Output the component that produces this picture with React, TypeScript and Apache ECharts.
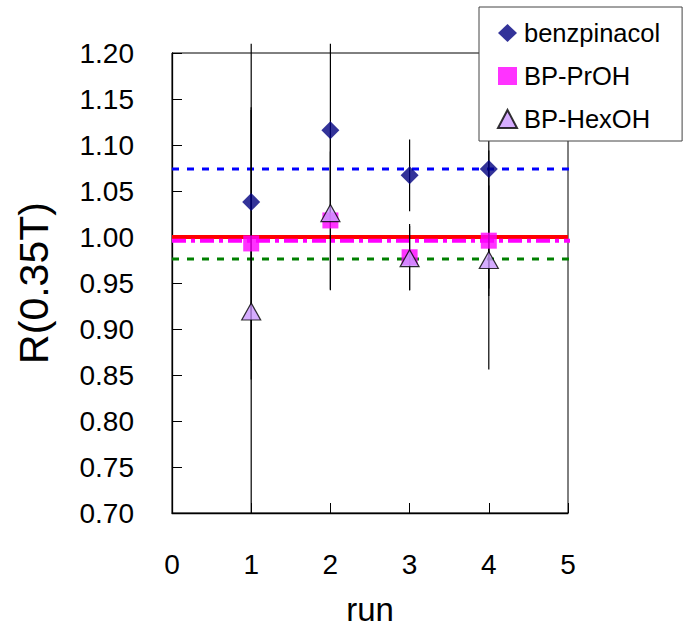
import React, { useEffect, useRef } from "react";
import * as echarts from "echarts";

const runs = [1, 2, 3, 4];
const xTicks = [0, 1, 2, 3, 4, 5];
const yTicks = [0.7, 0.75, 0.8, 0.85, 0.9, 0.95, 1.0, 1.05, 1.1, 1.15, 1.2];

const benzpinacol = [1.038, 1.116, 1.067, 1.074];
const benzpinacolErr = [0.172, 0.094, 0.039, 0.13];
const bpPrOH = [0.993, 1.018, 0.978, 0.996];
const bpPrOHErr = [0.148, 0.075, 0.036, 0.06];
const bpHexOH = [0.919, 1.026, 0.977, 0.975];
const bpHexOHErr = [0.219, 0.084, 0.035, 0.119];

const meanBenz = 1.074;
const reference = 1.0;
const meanPrOH = 0.996;
const meanHexOH = 0.976;
const lineXStart = 0;
const lineXEnd = 5.13;
const refXEnd = 5.0;

const FONT = "'Liberation Sans', Arial, sans-serif";

export default function App() {
  const ref = useRef<HTMLDivElement>(null);
  useEffect(() => {
    if (!ref.current) return;
    const chart = echarts.init(ref.current, undefined, { renderer: "svg" });

    const errData = (vals: number[], errs: number[]) =>
      runs.map((r, i) => [r, vals[i] - errs[i], vals[i] + errs[i]]);

    const renderErr = (params: any, api: any) => {
      const x = api.value(0);
      const p1 = api.coord([x, api.value(1)]);
      const p2 = api.coord([x, api.value(2)]);
      return {
        type: "line",
        shape: { x1: p1[0], y1: p1[1], x2: p2[0], y2: p2[1] },
        style: { stroke: "#000", lineWidth: 1.2 },
      };
    };

    const hLine = (name: string, v: number, xEnd: number, color: string, width: number, type: any) => ({
      name,
      type: "line",
      data: [
        [lineXStart, v],
        [xEnd, v],
      ],
      symbol: "none",
      clip: false,
      silent: true,
      z: 1,
      lineStyle: { color, width, type },
    });

    const errSeries = (name: string, vals: number[], errs: number[]) => ({
      name,
      type: "custom",
      renderItem: renderErr,
      data: errData(vals, errs),
      encode: { x: 0, y: [1, 2] },
      clip: false,
      silent: true,
      z: 2,
    });

    chart.setOption({
      animation: false,
      backgroundColor: "#fff",
      textStyle: { fontFamily: FONT },
      grid: {
        left: 172,
        top: 53,
        width: 396,
        height: 460,
        outerBoundsMode: "none",
        containLabel: false,
        show: true,
        borderColor: "#000",
        borderWidth: 1,
        backgroundColor: "transparent",
      },
      legend: {
        data: ["benzpinacol", "BP-PrOH", "BP-HexOH"],
        orient: "vertical",
        left: 479,
        top: 7,
        padding: [13, 22, 9, 18],
        itemGap: 17,
        itemWidth: 19,
        itemHeight: 18,
        backgroundColor: "#fff",
        borderColor: "#444",
        borderWidth: 1,
        selectedMode: false,
        z: 10,
        textStyle: { fontFamily: FONT, fontSize: 25.5, color: "#000", padding: [0, 0, 0, 2] },
      },
      xAxis: {
        type: "value",
        min: 0,
        max: 5,
        interval: 1,
        name: "run",
        nameLocation: "middle",
        nameGap: 85,
        nameTextStyle: { fontFamily: FONT, fontSize: 33, lineHeight: 22, color: "#000" },
        axisLine: { show: true, lineStyle: { color: "#000", width: 1.3 } },
        axisTick: { show: true, inside: true, length: 10, lineStyle: { color: "#000" } },
        axisLabel: {
          fontFamily: FONT,
          fontSize: 28,
          color: "#000",
          margin: 37,
          formatter: (v: number) => (xTicks.includes(v) ? String(v) : ""),
        },
        splitLine: { show: false },
      },
      yAxis: {
        type: "value",
        min: 0.7,
        max: 1.2,
        interval: 0.05,
        name: "R(0.35T)",
        nameLocation: "middle",
        nameGap: 118,
        nameRotate: 90,
        nameTextStyle: { fontFamily: FONT, fontSize: 41, color: "#000" },
        axisLine: { show: true, lineStyle: { color: "#000", width: 1.3 } },
        axisTick: { show: true, inside: true, length: 10, lineStyle: { color: "#000" } },
        axisLabel: {
          fontFamily: FONT,
          fontSize: 28,
          color: "#000",
          margin: 38,
          formatter: (v: number) => {
            const t = yTicks.find((y) => Math.abs(y - v) < 1e-6);
            return t !== undefined ? t.toFixed(2) : "";
          },
        },
        splitLine: { show: false },
      },
      series: [
        hLine("benzpinacol mean", meanBenz, lineXEnd, "#0000FF", 3, [7, 8]),
        hLine("reference", reference, refXEnd, "#FF0000", 4, "solid"),
        hLine("BP-PrOH mean", meanPrOH, lineXEnd, "#FF00FF", 4, [14, 5, 4, 5]),
        hLine("BP-HexOH mean", meanHexOH, lineXEnd, "#008000", 3, [7, 8]),
        errSeries("benzpinacol err", benzpinacol, benzpinacolErr),
        errSeries("BP-PrOH err", bpPrOH, bpPrOHErr),
        errSeries("BP-HexOH err", bpHexOH, bpHexOHErr),
        {
          name: "benzpinacol",
          type: "scatter",
          data: runs.map((r, i) => [r, benzpinacol[i]]),
          symbol: "diamond",
          symbolSize: [18, 18],
          itemStyle: { color: "#000080" },
          z: 3,
        },
        {
          name: "BP-PrOH",
          type: "scatter",
          data: runs.map((r, i) => [r, bpPrOH[i]]),
          symbol: "rect",
          symbolSize: [16, 16],
          itemStyle: { color: "#FF00FF" },
          z: 3,
        },
        {
          name: "BP-HexOH",
          type: "scatter",
          data: runs.map((r, i) => [r, bpHexOH[i]]),
          symbol: "triangle",
          symbolSize: [19, 17],
          itemStyle: { color: "#CC99FF", borderColor: "#000", borderWidth: 1.2 },
          z: 4,
        },
      ],
    });
    return () => chart.dispose();
  }, []);
  return (
    <div
      ref={ref}
      style={{ position: "absolute", left: 0, top: 0, width: 685, height: 627 }}
    />
  );
}
